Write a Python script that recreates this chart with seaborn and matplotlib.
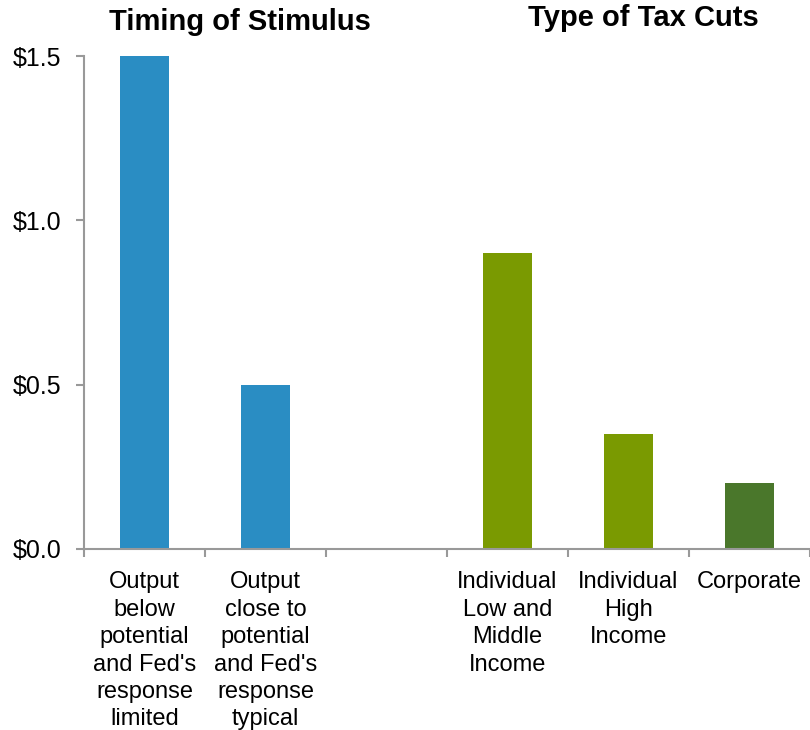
import numpy as np
import pandas as pd
import matplotlib
matplotlib.use("Agg")
import matplotlib.pyplot as plt
import seaborn as sns
from matplotlib.ticker import FuncFormatter, FixedLocator

# data
categories = ["below", "close", "gap", "lowmid", "high", "corp"]
labels = ["Output\nbelow\npotential\nand Fed's\nresponse\nlimited",
          "Output\nclose to\npotential\nand Fed's\nresponse\ntypical",
          "",
          "Individual\nLow and\nMiddle\nIncome",
          "Individual\nHigh\nIncome",
          "Corporate"]
bar_cats = ["below", "close", "lowmid", "high", "corp"]
values = [1.5, 0.5, 0.9, 0.35, 0.2]
colors = ["#2A8DC3", "#2A8DC3", "#7A9A01", "#7A9A01", "#4A772B"]

df = pd.DataFrame({"cat": bar_cats, "val": values})

sns.set_style("white")
plt.rcParams['font.family'] = ['Liberation Sans', 'DejaVu Sans']
plt.rcParams['text.color'] = 'black'
plt.rcParams['xtick.color'] = 'black'
plt.rcParams['ytick.color'] = 'black'

fig = plt.figure(figsize=(8.1, 7.3), dpi=100)
ax = fig.add_axes([84 / 810, 1 - 549 / 730, 1 - 84 / 810, (549 - 56) / 730])

sns.barplot(data=df, x="cat", y="val", hue="cat", order=categories,
            hue_order=bar_cats, palette=colors, width=0.4,
            legend=False, saturation=1, linewidth=0, ax=ax)

ax.set_xlim(-0.5, 5.5)
ax.set_ylim(0, 1.5)
ax.set_xlabel("")
ax.set_ylabel("")

grey = "#999999"
for s in ["top", "right"]:
    ax.spines[s].set_visible(False)
for s in ["left", "bottom"]:
    ax.spines[s].set_color(grey)
    ax.spines[s].set_linewidth(1.5)

ax.set_yticks([0, 0.5, 1.0, 1.5])
ax.yaxis.set_major_formatter(FuncFormatter(lambda v, p: f"${v:.1f}"))
ax.tick_params(axis="y", left=True, length=6, width=1.5, color=grey,
               labelcolor="black", labelsize=18, pad=10)

ax.set_xticks(range(len(categories)))
ax.set_xticklabels(labels, fontsize=17, va="top", linespacing=1.32)
ax.tick_params(axis="x", which="major", length=0, pad=16, labelcolor="black")
ax.xaxis.set_minor_locator(FixedLocator(np.arange(-0.5, 5.6, 1.0)))
ax.tick_params(axis="x", which="minor", bottom=True, length=6, width=1.5,
               color=grey)

fig.text(240 / 810, 1 - 22 / 730, "Timing of Stimulus", fontsize=21,
         fontweight="bold", ha="center", va="center", color="black")
fig.text(643 / 810, 1 - 18 / 730, "Type of Tax Cuts", fontsize=21,
         fontweight="bold", ha="center", va="center", color="black")

fig.savefig("out.png", dpi=100)
